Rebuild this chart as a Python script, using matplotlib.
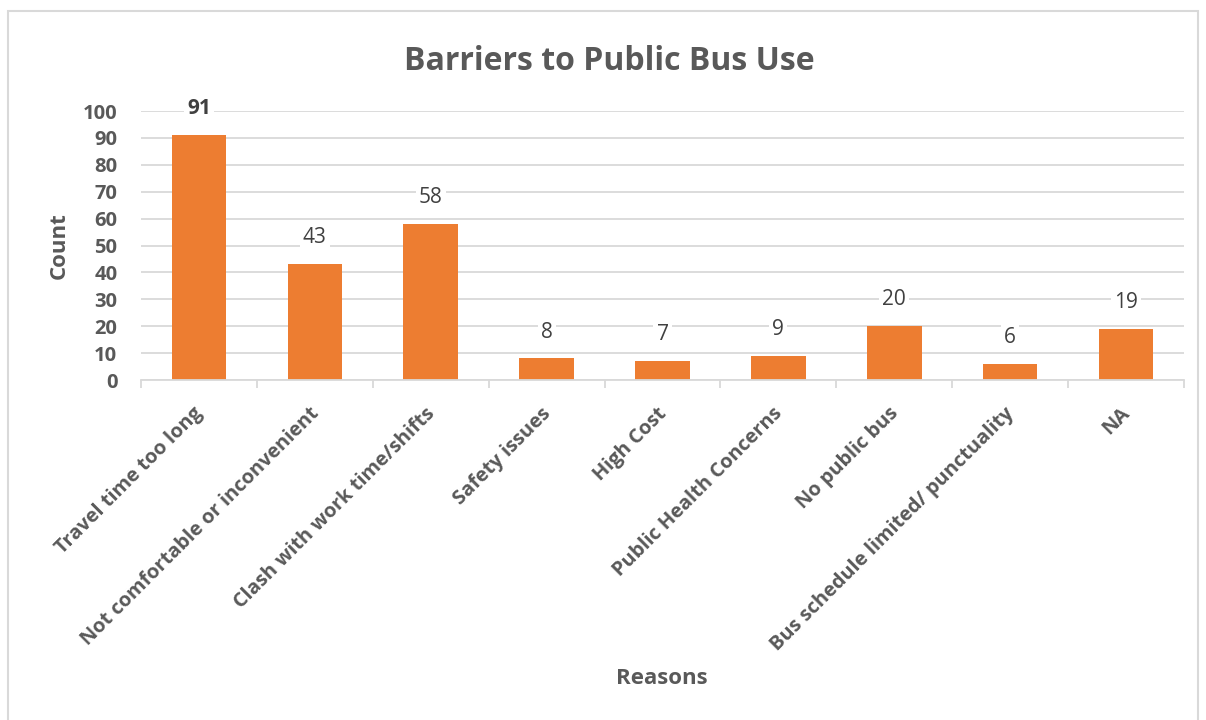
import matplotlib.pyplot as plt
from matplotlib.patches import Rectangle
from matplotlib.transforms import ScaledTranslation

# survey responses: reasons for not using the public bus
reasons = ['Travel time too long', 'Not comfortable or inconvenient',
           'Clash with work time/shifts', 'Safety issues', 'High Cost',
           'Public Health Concerns', 'No public bus',
           'Bus schedule limited/ punctuality', 'NA']
counts = [91, 43, 58, 8, 7, 9, 20, 6, 19]
yticks = list(range(0, 101, 10))

bar_color = '#ED7D31'
grid_color = '#D9D9D9'
text_color = '#595959'

plt.rcParams['font.family'] = ['Open Sans', 'DejaVu Sans']

fig = plt.figure(figsize=(12.06, 7.2), dpi=100)
ax = fig.add_axes([0.1169, 0.4722, 0.8649, 0.3736])

x = list(range(len(reasons)))
ax.bar(x, counts, width=0.47, color=bar_color, zorder=2)

for i, v in enumerate(counts):
    ax.annotate(str(v), (i, v), xytext=(0, 19), textcoords='offset points',
                ha='center', va='center', fontsize=15,
                fontweight='bold' if i == 0 else 'normal',
                color='#404040', zorder=4,
                bbox=dict(boxstyle='square,pad=0.15', fc='white', ec='none'))

ax.set_xlim(-0.5, len(reasons) - 0.5)
ax.set_ylim(0, 100)
ax.set_yticks(yticks)
ax.set_yticklabels([str(t) for t in yticks], fontsize=14.5, fontweight='bold',
                   color=text_color)
ax.yaxis.grid(True, color=grid_color, linewidth=1.3, zorder=0)
ax.set_axisbelow(True)
ax.tick_params(axis='y', length=0, pad=17)

# category ticks sit on the boundaries between bars
ax.set_xticks([i - 0.5 for i in range(len(reasons) + 1)], minor=False)
ax.set_xticklabels([])
ax.tick_params(axis='x', which='major', length=6, width=1.3, color=grid_color)
ax.set_xticks(x, minor=True)
ax.set_xticklabels(reasons, minor=True, rotation=45, ha='right',
                   rotation_mode='anchor', fontsize=14.4, fontweight='bold',
                   color=text_color)
ax.tick_params(axis='x', which='minor', length=0, pad=14)
shift = ScaledTranslation(-6 / 100, -4 / 100, fig.dpi_scale_trans)
for lbl in ax.get_xticklabels(minor=True):
    lbl.set_transform(lbl.get_transform() + shift)

for side in ['top', 'right', 'left']:
    ax.spines[side].set_visible(False)
ax.spines['bottom'].set_color(grid_color)
ax.spines['bottom'].set_linewidth(1.3)

ax.set_ylabel('Count', fontsize=16, fontweight='bold', color=text_color,
              labelpad=9)
fig.text(0.549, 0.057, 'Reasons', ha='center', va='center', fontsize=16,
         fontweight='bold', color=text_color)
fig.text(0.505, 0.915, 'Barriers to Public Bus Use', ha='center', va='center',
         fontsize=23, fontweight='bold', color=text_color)

# chart frame
fig.patches.append(Rectangle((8 / 1206, -0.01), 1190 / 1206, 1 - 11 / 720 + 0.01,
                             transform=fig.transFigure, fill=False,
                             edgecolor=grid_color, linewidth=1.5))

fig.savefig('out.png', dpi=100)
